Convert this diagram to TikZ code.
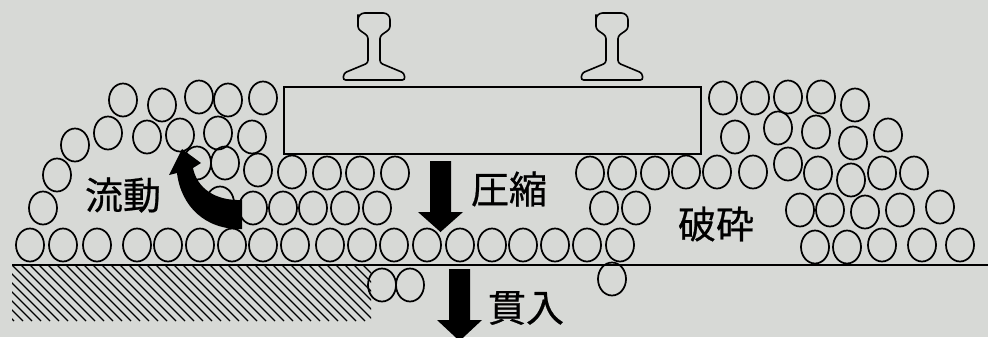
\documentclass[tikz,border=0pt]{standalone}
\usepackage{fontspec}
\newfontfamily\jpfont[FakeBold=0.6]{Noto Sans CJK JP}
\usetikzlibrary{positioning}
\definecolor{paper}{RGB}{215,217,214}
\tikzset{
  grain/.style={black, line width=1.3pt},
  railline/.style={black, line width=1.2pt, rounded corners=2},
  hatchline/.style={black, line width=1pt},
  jplabel/.style={font=\jpfont\fontsize{28.5}{30}\selectfont, inner sep=0pt},
  rail/.pic={
    \draw[railline] (-6,63) -- (-6,36) -- (-16,29) -- (-16,17)
      [rounded corners=5] -- (-16,13) -- (16,13) [rounded corners=2] -- (16,29)
      -- (6,36) -- (6,63) -- (30,73) -- (31,80) -- (-31,80)
      -- (-30,73) -- cycle;
  }
}

\begin{document}
\begin{tikzpicture}[x=0.75pt, y=-0.75pt]
  \fill[paper] (0,0) rectangle (988,337);
  \clip (0,0) rectangle (988,337);

  % roadbed under the ballast
  \begin{scope}
    \clip (12,265) rectangle (371,321);
    \foreach \i in {-7,...,40}
      \draw[hatchline] ({12+9*\i},265) -- ++(56,56);
  \end{scope}
  \draw[grain] (12,265) -- (988,265);

  % rails and sleeper
  \pic at (374,0) {rail};
  \pic at (612,0) {rail};
  \draw[grain] (284,87) rectangle (701,154);

  % ballast stones
  \foreach \x/\y in {123/100,162/105,199/97,228/100,263/98,
      108/133,147/137,180/135,218/133,252/137,75/145,57/175,43/208,
      197/163,225/163,258/170,292/172,327/173,360/173,395/173,
      220/203,253/208,283/208,313/208,345/208,377/208,
      30/245,63/245,97/245,137/245,168/245,200/245,232/245,263/245,
      295/245,330/245,362/245,394/245,427/245,460/245,492/245,523/245,
      555/245,587/245,620/245,
      382/285,410/285,612/279,
      590/173,622/173,655/173,686/172,717/172,753/172,788/164,818/173,
      851/180,882/173,914/173,
      604/208,636/208,800/210,830/210,865/212,900/210,940/207,
      815/247,847/247,882/245,922/245,960/245,
      723/98,755/98,788/97,821/97,855/105,
      735/137,778/128,816/132,853/143,888/135}
    \draw[grain] (\x,\y) ellipse [x radius=14, y radius=16.5];

  % flow arrow
  \fill[black] (242,229) .. controls (205,230) and (181,206) .. (177,173)
    -- (169,175) -- (182,149) -- (201,163) -- (193,168)
    .. controls (197,188) and (215,201) .. (242,200) -- cycle;

  % compression and penetration arrows
  \fill[black] (430,161) -- (451,161) -- (451,212) -- (463,212)
    -- (440.5,232) -- (418,212) -- (430,212) -- cycle;
  \fill[black] (449,269) -- (470,269) -- (470,320) -- (482,320)
    -- (459.5,341) -- (437,320) -- (449,320) -- cycle;

  % labels
  \node[jplabel] (flow) at (123,195) {流動};
  \node[jplabel] (press) at (509,189) {圧縮};
  \node[jplabel] (crush) at (716,224) {破砕};
  \node[jplabel] (sink) at (526,308) {貫入};
\end{tikzpicture}
\end{document}
